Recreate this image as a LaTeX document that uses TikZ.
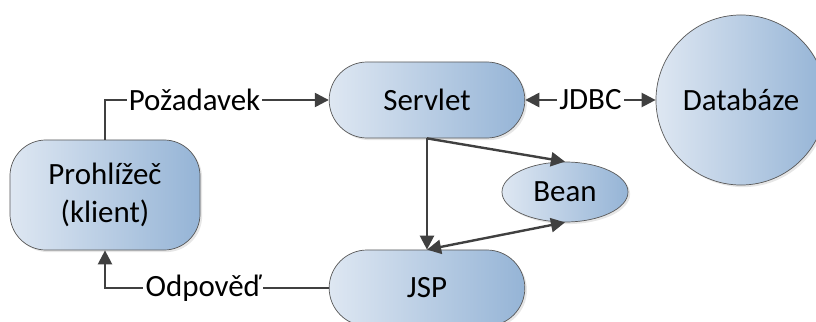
\documentclass[tikz,border=0pt]{standalone}
\usepackage{fontspec}
\setmainfont{Carlito}
\usetikzlibrary{arrows.meta,shapes.misc,shapes.geometric,shadows}

\definecolor{boxlight}{HTML}{DEE7F2}
\definecolor{boxdark}{HTML}{95B4D6}
\definecolor{linegray}{HTML}{404040}

\begin{document}
\begin{tikzpicture}[x=0.025cm,y=-0.025cm,>={Triangle[length=10pt,width=10pt]},
	font=\fontsize{22}{27}\selectfont,
	box/.style={draw=black!65,line width=0.5pt,left color=boxlight,right color=boxdark,
		drop shadow={opacity=0.2,shadow xshift=1.5pt,shadow yshift=-1.5pt}},
	pill/.style={box,rounded rectangle,minimum width=5.125cm,minimum height=1.9cm},
	flow/.style={draw=linegray,line width=1.7pt},
	lbl/.style={fill=white,inner sep=1.5pt}]

\useasboundingbox (0,0) rectangle (816,322);


\node[box,rounded corners=0.9cm,minimum width=4.75cm,minimum height=2.75cm,align=center]
			(prohl)	at (105,195)		{Prohlížeč\\(klient)};
\node[pill]	(servlet)	at (427,100)		{Servlet};
\node[pill]	(jsp)		at (427,288)		{JSP};
\node[box,ellipse,minimum width=3.15cm,minimum height=1.5cm]
			(bean)	at (565,192)		{Bean};
\node[box,circle,minimum size=4.25cm,inner sep=0pt]
			(db)		at (741,100)		{Databáze};



	\draw[flow,->]	(prohl.north)	|-	node[lbl,pos=0.7]{Požadavek}	(servlet.west);
	\draw[flow,->]	(jsp.west)		-|	node[lbl,pos=0.28]{Odpověď}	(prohl.south);
	\draw[flow,<->]	(servlet.east)	--	node[lbl]{JDBC}			(db.west);

	\path	(servlet.south)	edge[flow,->]	(jsp.north)
			(servlet.south)	edge[flow,->]	(bean.north)
			(bean.south)	edge[flow,<->]	(jsp.north);

\end{tikzpicture}
\end{document}
